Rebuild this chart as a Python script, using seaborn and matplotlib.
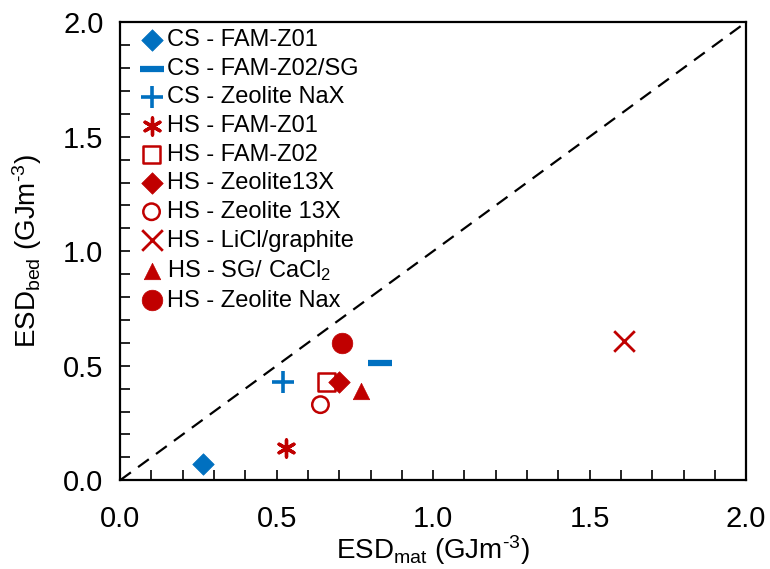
import numpy as np
import pandas as pd
import seaborn as sns
import matplotlib.pyplot as plt
from matplotlib.ticker import MultipleLocator

labels = ['CS - FAM-Z01', 'CS - FAM-Z02/SG', 'CS - Zeolite NaX',
          'HS - FAM-Z01', 'HS - FAM-Z02', 'HS - Zeolite13X',
          'HS - Zeolite 13X', 'HS - LiCl/graphite', 'HS - SG/ CaCl$_2$',
          'HS - Zeolite Nax']
esd_mat = [0.265, 0.83, 0.52, 0.53, 0.66, 0.70, 0.64, 1.61, 0.77, 0.71]
esd_bed = [0.07, 0.51, 0.43, 0.14, 0.43, 0.43, 0.33, 0.61, 0.39, 0.60]

blue = '#0070C0'
red = '#C00000'
colors = [blue, blue, blue, red, red, red, red, red, red, red]
markers = ['D', '_', '+', (6, 2, 0), 's', 'D', 'o', 'x', '^', 'o']
filled = [True, False, False, False, False, True, False, False, True, True]
sizes = [120, 280, 230, 150, 160, 120, 140, 220, 140, 220]

sns.set_style('ticks')
plt.rcParams['font.family'] = ['Liberation Sans', 'DejaVu Sans']
plt.rcParams['mathtext.fontset'] = 'custom'
plt.rcParams['mathtext.rm'] = 'Liberation Sans'
plt.rcParams['mathtext.it'] = 'Liberation Sans'
plt.rcParams['text.color'] = 'black'
plt.rcParams['axes.labelcolor'] = 'black'
plt.rcParams['xtick.color'] = 'black'
plt.rcParams['ytick.color'] = 'black'

fig = plt.figure(figsize=(7.7, 5.69), dpi=100)
ax = fig.add_axes([0.156, 0.156, 0.813, 0.805])

ax.plot([0, 2], [0, 2], ls=(0, (6, 4)), color='black', lw=1.6, zorder=1)

for i, lab in enumerate(labels):
    df = pd.DataFrame({'x': [esd_mat[i]], 'y': [esd_bed[i]]})
    m = markers[i]
    if m in ('+', 'x', '_', (6, 2, 0)):
        lw = {'+': 2.6, 'x': 2.0, '_': 4.5}.get(m, 2.4)
        sns.scatterplot(data=df, x='x', y='y', ax=ax, marker=m, s=sizes[i],
                        color=colors[i], linewidth=lw, label=lab, zorder=3)
    elif filled[i]:
        sns.scatterplot(data=df, x='x', y='y', ax=ax, marker=m, s=sizes[i],
                        color=colors[i], edgecolor=colors[i], linewidth=0.5,
                        label=lab, zorder=3)
    else:
        sns.scatterplot(data=df, x='x', y='y', ax=ax, marker=m, s=sizes[i],
                        facecolor='none', edgecolor=colors[i], linewidth=1.8,
                        label=lab, zorder=3)

ax.set_xlim(0, 2)
ax.set_ylim(0, 2)
ax.xaxis.set_major_locator(MultipleLocator(0.5))
ax.yaxis.set_major_locator(MultipleLocator(0.5))
ax.xaxis.set_minor_locator(MultipleLocator(0.1))
ax.yaxis.set_minor_locator(MultipleLocator(0.1))
ax.xaxis.set_major_formatter(lambda v, p: f'{v:.1f}')
ax.yaxis.set_major_formatter(lambda v, p: f'{v:.1f}')
ax.tick_params(which='both', direction='in', labelsize=21, width=1.2,
               color='black', labelcolor='black', length=7)
ax.tick_params(axis='y', pad=12)
ax.tick_params(axis='x', pad=18)
for sp in ax.spines.values():
    sp.set_visible(True)
    sp.set_linewidth(1.6)
    sp.set_color('black')

ax.set_xlabel('ESD$_{\\mathrm{mat}}$ (GJm$^{\\text{-3}}$)', fontsize=20, labelpad=0)
ax.set_ylabel('ESD$_{\\mathrm{bed}}$ (GJm$^{\\text{-3}}$)', fontsize=20, labelpad=14)

ax.legend(loc='upper left', frameon=False, fontsize=17, handletextpad=0.15,
          labelspacing=0.28, borderaxespad=0.2, handlelength=1.0,
          borderpad=0.1, bbox_to_anchor=(0.02, 1.0))

fig.savefig('out.png', dpi=100)
